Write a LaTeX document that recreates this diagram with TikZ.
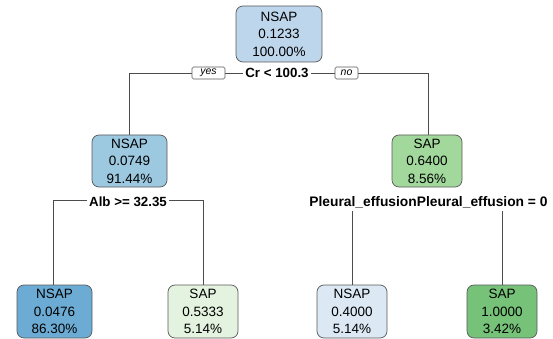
\documentclass[tikz,border=0pt]{standalone}
\usepackage{fontspec}
\setmainfont{Liberation Sans}
\usetikzlibrary{backgrounds}
\definecolor{bA}{RGB}{190,214,236}
\definecolor{bB}{RGB}{156,200,224}
\definecolor{bC}{RGB}{108,172,212}
\definecolor{bD}{RGB}{220,233,245}
\definecolor{gA}{RGB}{162,216,156}
\definecolor{gB}{RGB}{228,243,223}
\definecolor{gC}{RGB}{118,194,120}
\begin{document}
\begin{tikzpicture}[x=1pt,y=-1pt,
  box/.style={draw=black!65, line width=0.7pt, rounded corners=7pt, align=center, inner sep=0pt,
    font=\fontsize{13.5}{17.5}\selectfont},
  splitlbl/.style={fill=white, inner sep=2pt, font=\bfseries\fontsize{13.3}{15}\selectfont},
  yn/.style={draw=black!65, fill=white, line width=0.6pt, rounded corners=1.5pt, inner sep=0pt,
    minimum height=12pt, font=\itshape\fontsize{10.5}{12}\selectfont},
  edge/.style={draw=black!70, line width=0.7pt}]
\useasboundingbox (0,0) rectangle (553,339);

\node[box, fill=bA, minimum width=86pt, minimum height=56pt] (n1) at (279,34) {NSAP\\0.1233\\100.00\%};
\node[box, fill=bB, minimum width=75pt, minimum height=52pt] (n2) at (129.5,161) {NSAP\\0.0749\\91.44\%};
\node[box, fill=gA, minimum width=70pt, minimum height=52pt] (n3) at (427,161) {SAP\\0.6400\\8.56\%};
\node[box, fill=bC, minimum width=75pt, minimum height=53pt] (n4) at (54.5,311.5) {NSAP\\0.0476\\86.30\%};
\node[box, fill=gB, minimum width=70pt, minimum height=53pt] (n5) at (203,311.5) {SAP\\0.5333\\5.14\%};
\node[box, fill=bD, minimum width=70pt, minimum height=53pt] (n6) at (352,311.5) {NSAP\\0.4000\\5.14\%};
\node[box, fill=gC, minimum width=70pt, minimum height=53pt] (n7) at (502,311.5) {SAP\\1.0000\\3.42\%};

\coordinate (jL) at (129,73);
\coordinate (jR) at (428,73);
\coordinate (kL) at (53,200);
\coordinate (kR) at (203,200);
\coordinate (mL) at (352,200);
\coordinate (mR) at (502,200);

\node[splitlbl] (s1) at (277,73) {Cr < 100.3};
\node[yn, minimum width=33pt] (yes) at (208.5,73) {yes};
\node[yn, minimum width=23pt] (no) at (346.5,73) {no};
\node[splitlbl] (s2) at (128,201.5) {Alb >= 32.35};
\node[splitlbl, inner ysep=3.5pt, font=\bfseries\fontsize{13.8}{15}\selectfont] (s3) at (428.5,202) {Pleural\_effusionPleural\_effusion = 0};

\begin{scope}[on background layer]
\draw[edge] (jL |- n2.north) -- (jL) -- (jR) -- (jR |- n3.north);
\draw[edge] (kL |- n4.north) -- (kL) -- (kR) -- (kR |- n5.north);
\draw[edge] (mL |- n6.north) -- (mL) -- (mR) -- (mR |- n7.north);
\end{scope}
\end{tikzpicture}
\end{document}
